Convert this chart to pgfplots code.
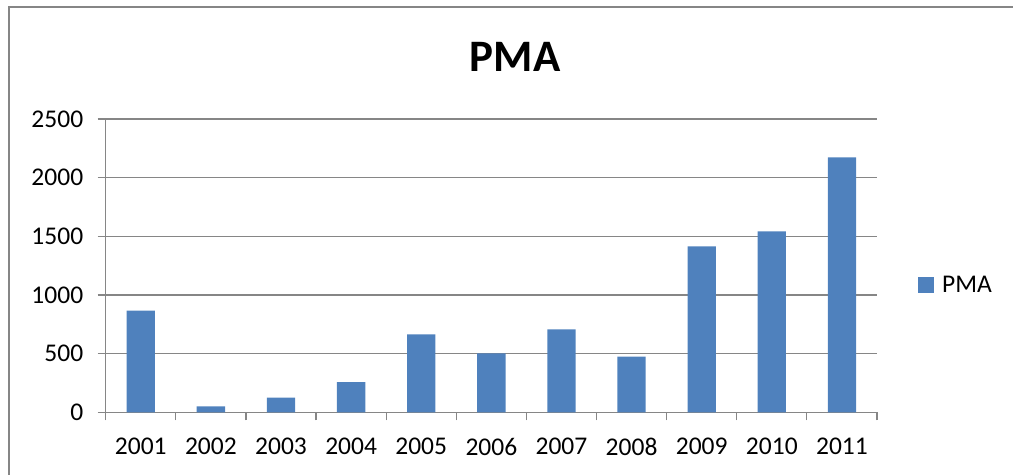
\documentclass[border=0pt]{standalone}
\usepackage{pgfplots}
\pgfplotsset{compat=1.18}
\usepackage{fontspec}
\setmainfont{Carlito}
\definecolor{barblue}{HTML}{4F81BD}
\definecolor{gridgray}{HTML}{868686}
\begin{document}
\begin{tikzpicture}
\path[use as bounding box] (0,0) rectangle (1013bp,-475bp);
\draw[gridgray, line width=1.5bp] (9bp,-480bp) -- (9bp,-7bp) -- (1020bp,-7bp);
\node[anchor=base, font=\fontsize{45bp}{50bp}\selectfont\bfseries] at (515bp,-71.7bp) {PMA};
\begin{axis}[
  at={(105.7bp,-412.3bp)}, anchor=south west,
  scale only axis, width=771.3bp, height=293.3bp,
  xmin=-0.5, xmax=10.5, ymin=0, ymax=2500,
  axis x line*=bottom, axis y line*=left,
  axis line style={gridgray, line width=1.2bp},
  xtick={0,...,10},
  xticklabels={2001,2002,2003,2004,2005,2006,2007,2008,2009,2010,2011},
  minor xtick={-0.5,0.5,...,10.5},
  ytick={0,500,...,2500},
  tick align=outside,
  major tick length=8bp, minor tick length=8bp,
  x tick style={draw=none},
  minor x tick style={draw=gridgray, line width=1.2bp},
  y tick style={gridgray, line width=1.2bp},
  ymajorgrids, major grid style={gridgray, line width=1.2bp},
  ticklabel style={font=\fontsize{25.5bp}{30bp}\selectfont},
  /pgf/number format/assume math mode=true,
  /pgf/number format/1000 sep={},
  xticklabel style={yshift=-14bp},
  yticklabel style={xshift=-11bp},
  legend style={at={(axis description cs:1.1024,0.434)}, anchor=center, draw=none, fill=none,
    font=\fontsize{25.5bp}{30bp}\selectfont, inner sep=0pt},
  legend cell align=left,
  legend image code/.code={\fill[barblue] (0bp,-8bp) rectangle (16bp,8bp); \path (22bp,0bp);},
]
\addplot[ybar, bar width=28.3bp, fill=barblue, draw=none] coordinates {
  (0,866) (1,51) (2,125) (3,258) (4,665) (5,503) (6,707) (7,474) (8,1415) (9,1543) (10,2173)
};
\addlegendentry{PMA}
\end{axis}
\end{tikzpicture}
\end{document}
